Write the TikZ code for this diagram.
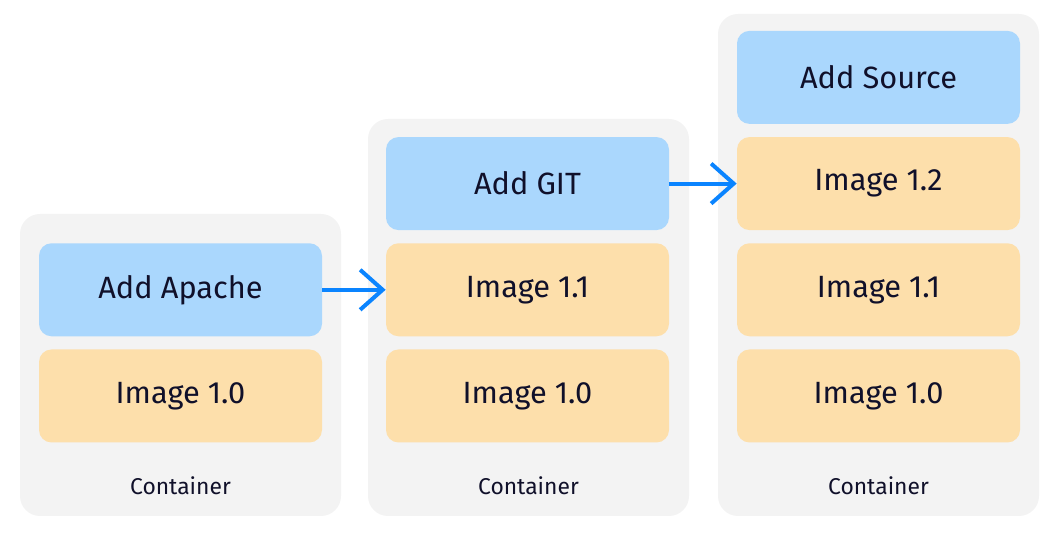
\documentclass[tikz,border=0pt]{standalone}
\usepackage{fontspec}
\setmainfont{Fira Sans}
\usepackage{xcolor}
\definecolor{contgray}{HTML}{F3F3F3}
\definecolor{addblue}{HTML}{AAD7FD}
\definecolor{imgorange}{HTML}{FDDFAB}
\definecolor{inkblue}{HTML}{10102A}
\definecolor{arrowblue}{HTML}{0A84FF}
\usetikzlibrary{arrows.meta, positioning}

\begin{document}
\begin{tikzpicture}[
    cont/.style={fill=contgray, rounded corners=0.4cm, minimum width=6.42cm},
    box/.style={rounded corners=0.25cm, minimum width=5.66cm,
                minimum height=1.86cm, align=center, text=inkblue,
                font=\fontsize{17.5}{20}\selectfont},
    addbox/.style={box, fill=addblue},
    imgbox/.style={box, fill=imgorange},
    lbl/.style={text=inkblue, font=\fontsize{13}{15}\selectfont},
    >={Straight Barb[length=0.45cm, width=0.8cm]}
  ]
    \useasboundingbox (0,0) rectangle (21.04,10.72);

    % containers
    \node[cont, minimum height=6.04cm] (cont1) at (3.61,3.42) {};
    \node[cont, minimum height=7.94cm] (cont2) at (10.57,4.37) {};
    \node[cont, minimum height=10.04cm] (cont3) at (17.57,5.42) {};

    \node[lbl] (lbl1) at (3.61,1.0) {Container};
    \node[lbl] (lbl2) at (10.57,1.0) {Container};
    \node[lbl] (lbl3) at (17.57,1.0) {Container};

    % first container
    \node[imgbox] (base1) at (3.61,2.80) {Image 1.0};
    \node[addbox, above=0.25cm of base1] (apache) {Add Apache};

    % second container
    \node[imgbox] (base2) at (10.55,2.80) {Image 1.0};
    \node[imgbox, above=0.25cm of base2] (img11b) {Image 1.1};
    \node[addbox, above=0.25cm of img11b] (git) {Add GIT};

    % third container
    \node[imgbox] (base3) at (17.57,2.80) {Image 1.0};
    \node[imgbox, above=0.25cm of base3] (img11c) {Image 1.1};
    \node[imgbox, above=0.25cm of img11c] (img12) {Image 1.2};
    \node[addbox, above=0.25cm of img12] (source) {Add Source};

    \draw[->, arrowblue, line width=0.08cm] (apache) -- (img11b);
    \draw[->, arrowblue, line width=0.08cm] (git) -- (img12);
  \end{tikzpicture}
\end{document}
